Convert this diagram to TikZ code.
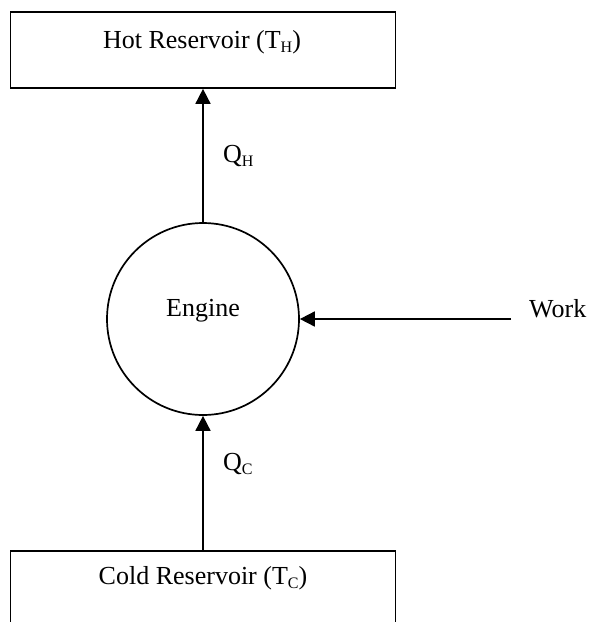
\documentclass[tikz,border=0pt]{standalone}
\usepackage{fontspec}
\setmainfont{Liberation Serif}
\usetikzlibrary{arrows.meta}
% Word-style subscript: smaller letters set a little below the baseline
\newcommand{\lowsub}[1]{\raisebox{-4pt}{\fontsize{16}{16}\selectfont #1}}
\begin{document}
\begin{tikzpicture}[x=1pt,y=-1pt,
  every node/.style={font=\fontsize{26}{30}\selectfont, inner sep=0pt},
  reservoir/.style={draw, line width=1.7pt, rectangle, minimum width=385pt},
  enginebody/.style={draw, line width=1.7pt, circle, minimum size=192pt},
  flow/.style={line width=1.7pt, -{Triangle[length=15pt,width=15pt]}}]
  \clip (0,0) rectangle (592,622);
  % reservoirs and the engine
  \node[reservoir, minimum height=76pt] (hot) at (203,50) {};
  \node[anchor=base] (hottext) at (202,48) {Hot Reservoir (T\lowsub{H})};
  \node[reservoir, minimum height=100pt, anchor=north] (cold) at (203,550) {};
  \node[anchor=base] (coldtext) at (203,584) {Cold Reservoir (T\lowsub{C})};
  \node[enginebody] (engine) at (203,319) {};
  \node[anchor=base] (enginetext) at (203,316) {Engine};
  % work input
  \coordinate (workstart) at (511,319);
  \node[anchor=base west] (work) at (529,317) {Work};
  % heat flows and work arrow
  \draw[flow] (engine.north) -- (hot.south);
  \draw[flow] (cold.north) -- (engine.south);
  \draw[flow] (workstart) -- (engine.east);
  \node[anchor=base west] (qh) at (223,162) {Q\lowsub{H}};
  \node[anchor=base west] (qc) at (223,470) {Q\lowsub{C}};
\end{tikzpicture}
\end{document}
